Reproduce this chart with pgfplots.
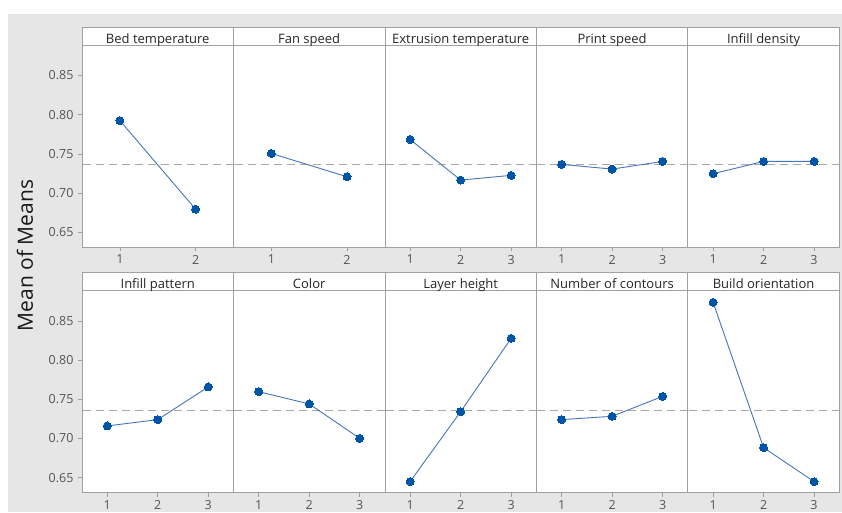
\documentclass[border=0pt]{standalone}
\usepackage{pgfplots}
\pgfplotsset{compat=1.18}
\usepackage{fontspec}
\setmainfont{Open Sans}
\definecolor{bggray}{HTML}{E6E6E6}
\definecolor{framegray}{HTML}{A0A0A0}
\definecolor{ptblue}{HTML}{0054A6}
\definecolor{lineblue}{HTML}{4675BA}
\definecolor{meangray}{HTML}{A8A8A8}
\definecolor{ticklab}{HTML}{555555}
\pgfplotsset{
  panel/.style={
    scale only axis, width=151.46pt, height=202pt, anchor=south west,
    ymin=0.631, ymax=0.889, xmin=0.5,
    axis background/.style={fill=white},
    axis line style={framegray, line width=0.8pt},
    tick align=outside, major tick length=4pt,
    tick style={framegray, line width=0.6pt},
    xtick pos=bottom, ytick pos=left,
    ytick=\empty,
    /pgf/number format/assume math mode=true,
    tick label style={font=\fontsize{12.5}{14}\selectfont, text=ticklab},
    xticklabel style={yshift=-0.5pt},
  },
  firstcol/.style={
    ytick={0.65,0.70,0.75,0.80,0.85},
    yticklabel style={xshift=-1pt, /pgf/number format/.cd, fixed, fixed zerofill, precision=2},
  },
  two/.style={xmax=2.5, xtick={1,2}},
  three/.style={xmax=3.5, xtick={1,2,3}},
  series/.style={lineblue, line width=0.9pt, mark=*, mark size=4pt,
    mark options={ptblue, fill=ptblue, line width=0pt}},
  meanline/.style={meangray, line width=1pt, dash pattern=on 8pt off 5pt, forget plot},
}
\newcommand{\meanline}{\addplot[meanline] coordinates {(0,0.7362) (4,0.7362)};}
\begin{document}
\begin{tikzpicture}[x=1pt,y=1pt]
\useasboundingbox (0,0) rectangle (842,512);
\fill[white] (0,0) rectangle (842,512);
\fill[bggray] (8,0) rectangle (842,498);
% top row
\begin{axis}[panel, firstcol, two, at={(82pt,265pt)}]
\meanline
\addplot[series] coordinates {(1,0.7925) (2,0.6793)};
\end{axis}
\begin{axis}[panel, two, at={(233.46pt,265pt)}]
\meanline
\addplot[series] coordinates {(1,0.7505) (2,0.7207)};
\end{axis}
\begin{axis}[panel, three, at={(384.92pt,265pt)}]
\meanline
\addplot[series] coordinates {(1,0.7683) (2,0.7165) (3,0.7225)};
\end{axis}
\begin{axis}[panel, three, at={(536.38pt,265pt)}]
\meanline
\addplot[series] coordinates {(1,0.7365) (2,0.7305) (3,0.7403)};
\end{axis}
\begin{axis}[panel, three, at={(687.84pt,265pt)}]
\meanline
\addplot[series] coordinates {(1,0.7246) (2,0.7403) (3,0.7403)};
\end{axis}
% bottom row
\begin{axis}[panel, firstcol, three, at={(82pt,19.5pt)}]
\meanline
\addplot[series] coordinates {(1,0.7160) (2,0.7241) (3,0.7658)};
\end{axis}
\begin{axis}[panel, three, at={(233.46pt,19.5pt)}]
\meanline
\addplot[series] coordinates {(1,0.7598) (2,0.7441) (3,0.7002)};
\end{axis}
\begin{axis}[panel, three, at={(384.92pt,19.5pt)}]
\meanline
\addplot[series] coordinates {(1,0.6450) (2,0.7343) (3,0.8279)};
\end{axis}
\begin{axis}[panel, three, at={(536.38pt,19.5pt)}]
\meanline
\addplot[series] coordinates {(1,0.7241) (2,0.7283) (3,0.7538)};
\end{axis}
\begin{axis}[panel, three, at={(687.84pt,19.5pt)}]
\meanline
\addplot[series] coordinates {(1,0.8739) (2,0.6883) (3,0.6449)};
\end{axis}
% title strips
\foreach \yb in {467, 221.5} {
  \draw[framegray, line width=0.8pt, fill=white] (82,\yb) rectangle (839.3,\yb+18);
  \foreach \xx in {233.46, 384.92, 536.38, 687.84} {
    \draw[framegray, line width=0.8pt] (\xx,\yb) -- (\xx,\yb+18);
  }
}
\begin{scope}[every node/.style={font=\fontsize{13}{15}\selectfont, text=black!85, anchor=base, inner sep=0pt}]
\node at (157.73,468.5) {Bed temperature};
\node at (309.19,468.5) {Fan speed};
\node at (460.65,468.5) {Extrusion temperature};
\node at (612.11,468.5) {Print speed};
\node at (763.57,468.5) {Infill density};
\node at (157.73,223.5) {Infill pattern};
\node at (309.19,223.5) {Color};
\node at (460.65,223.5) {Layer height};
\node at (612.11,223.5) {Number of contours};
\node at (763.57,223.5) {Build orientation};
\end{scope}
\node[rotate=90, font=\fontsize{21}{24}\selectfont, text=black!90] at (25,256.5) {Mean of Means};
\end{tikzpicture}
\end{document}
